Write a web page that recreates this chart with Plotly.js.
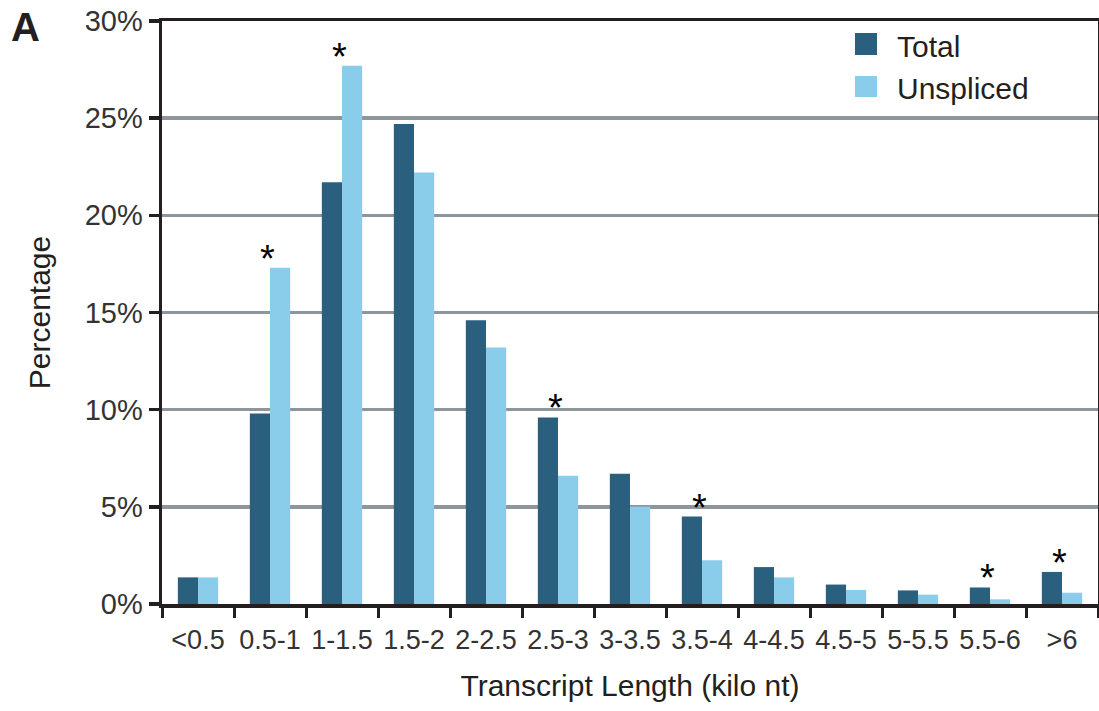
<!DOCTYPE html>
<html>
<head>
<meta charset="utf-8">
<script src="https://cdn.plot.ly/plotly-3.0.1.min.js"></script>
<style>html,body{margin:0;padding:0;background:#fff;}#chart{width:1099px;height:711px;}</style>
</head>
<body>
<div id="chart"></div>
<script>
const categories = ['<0.5','0.5-1','1-1.5','1.5-2','2-2.5','2.5-3','3-3.5','3.5-4','4-4.5','4.5-5','5-5.5','5.5-6','>6'];
const totalPct = [1.37, 9.8, 21.7, 24.7, 14.6, 9.6, 6.7, 4.5, 1.9, 1.0, 0.7, 0.85, 1.65];
const unsplicedPct = [1.37, 17.3, 27.7, 22.2, 13.2, 6.6, 5.0, 2.25, 1.37, 0.72, 0.48, 0.24, 0.58];
const significant = [false, true, true, false, false, true, false, true, false, false, false, true, true];
const seriesNames = ['Total', 'Unspliced'];
const colors = ['#2a5f7e', '#89cdea'];

const font = 'Liberation Sans, Arial, sans-serif';

const traces = [
  {type:'bar', name:seriesNames[0], x:categories, y:totalPct, marker:{color:colors[0], line:{width:0}}, showlegend:false},
  {type:'bar', name:seriesNames[1], x:categories, y:unsplicedPct, marker:{color:colors[1], line:{width:0}}, showlegend:false}
];

const annotations = [];
categories.forEach((c, i) => {
  if (significant[i]) {
    annotations.push({x:c, y:Math.max(totalPct[i], unsplicedPct[i]), xref:'x', yref:'y', text:'*',
      showarrow:false, xanchor:'center', yanchor:'bottom', xshift:-3, yshift:-14,
      font:{family:font, size:38, color:'#000'}});
  }
});
// panel letter
annotations.push({x:-0.1634, y:0.9897, xref:'paper', yref:'paper', text:'<b>A</b>', showarrow:false,
  xanchor:'left', yanchor:'middle', font:{family:font, size:40, color:'#231f20'}});
// legend text
const legY = [0.957, 0.885];
seriesNames.forEach((n, i) => {
  annotations.push({x:0.7833, y:legY[i], xref:'paper', yref:'paper', text:n, showarrow:false,
    xanchor:'left', yanchor:'middle', font:{family:font, size:30, color:'#231f20'}});
});
const shapes = [
  {type:'rect', xref:'paper', yref:'paper', x0:0.7404, x1:0.7639, y0:0.9417, y1:0.9794, fillcolor:colors[0], line:{width:0}},
  {type:'rect', xref:'paper', yref:'paper', x0:0.7404, x1:0.7639, y0:0.8696, y1:0.9057, fillcolor:colors[1], line:{width:0}}
];

const layout = {
  width:1099, height:711,
  margin:{l:162, r:1, t:21, b:107, pad:0},
  paper_bgcolor:'#fff', plot_bgcolor:'#fff',
  barmode:'group', bargap:0.44, bargroupgap:0,
  font:{family:font, color:'#231f20'},
  xaxis:{
    type:'category', range:[-0.5, 12.5], tickson:'boundaries', tickangle:0, ticklabelstandoff:9,
    ticks:'outside', ticklen:10, tickwidth:3, tickcolor:'#231f20',
    showline:true, linewidth:3.5, linecolor:'#231f20', mirror:true,
    showgrid:false, zeroline:false,
    tickfont:{family:font, size:27, color:'#333'},
    title:{text:'Transcript Length (kilo nt)', font:{family:font, size:30, color:'#231f20'}, standoff:22},
    automargin:false
  },
  yaxis:{
    range:[0, 30], dtick:5, ticksuffix:'%',
    ticks:'outside', ticklen:10, tickwidth:3.5, tickcolor:'#231f20',
    showline:true, linewidth:3.5, linecolor:'#231f20', mirror:true,
    showgrid:true, gridcolor:'#8f969b', gridwidth:3.5, zeroline:false,
    tickfont:{family:font, size:29, color:'#333'},
    title:{text:'Percentage', font:{family:font, size:30, color:'#231f20'}, standoff:26},
    automargin:false
  },
  annotations:annotations,
  shapes:shapes
};

Plotly.newPlot('chart', traces, layout, {displayModeBar:false, staticPlot:true});
</script>
</body>
</html>
